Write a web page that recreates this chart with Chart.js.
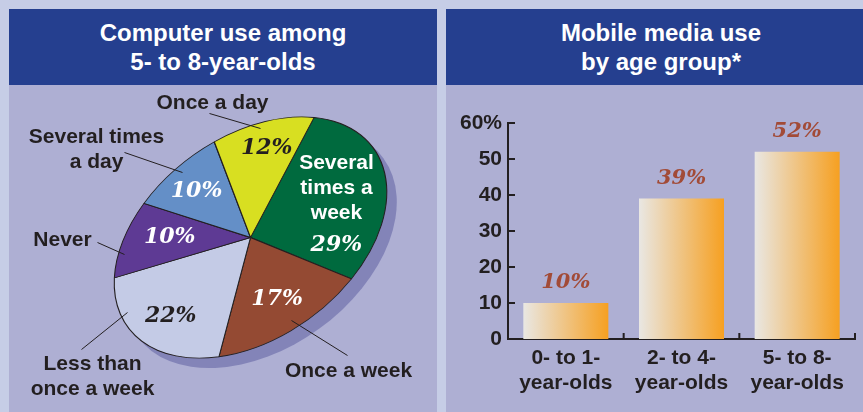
<!DOCTYPE html>
<html>
<head>
<meta charset="utf-8">
<script src="https://cdn.jsdelivr.net/npm/chart.js@4.4.0/dist/chart.umd.min.js"></script>
<style>
html, body { margin: 0; padding: 0; }
body {
    width: 863px; height: 412px; overflow: hidden; position: relative;
    background: #c6cde6;
    font-family: 'Liberation Sans', Arial, sans-serif;
}
.panel { position: absolute; top: 9px; bottom: 0; background: #aeafd3; }
#leftPanel { left: 9px; width: 428px; }
#rightPanel { left: 446px; width: 430px; }
.head {
    height: 76px; background: #253f8f; color: #fff;
    font-weight: bold; font-size: 24px; line-height: 29px; text-align: center;
    display: flex; flex-direction: column; justify-content: center;
}
.chartBox { position: absolute; top: 76px; left: 0; }
</style>
</head>
<body>
<div class="panel" id="leftPanel">
    <div class="head"><div>Computer use among</div><div>5- to 8-year-olds</div></div>
    <div class="chartBox"><canvas id="pieChart" width="428" height="327"></canvas></div>
</div>
<div class="panel" id="rightPanel">
    <div class="head"><div>Mobile media use</div><div>by age group*</div></div>
    <div class="chartBox"><canvas id="barChart" width="417" height="327"></canvas></div>
</div>
<script>
// Datos del gráfico circular (orden horario desde arriba)
const pieCategories = ['Several times a week', 'Once a week', 'Less than once a week', 'Never', 'Several times a day', 'Once a day'];
const pieValues = [29, 17, 22, 10, 10, 12];

// Datos del gráfico de barras
const barCategories = [['0- to 1-', 'year-olds'], ['2- to 4-', 'year-olds'], ['5- to 8-', 'year-olds']];
const barValues = [10, 39, 52];
const yMax = 60;
const yStep = 10;

const pieColors = ['#006a3e', '#944a33', '#c4cbe6', '#5e3a94', '#648fc7', '#d8df21'];
const pctColors = ['#fff', '#fff', '#231f20', '#fff', '#fff', '#231f20'];
// posición de los porcentajes: desplazamiento angular (grados) y fracción del radio
const pctShift = [37.5, 0, -1.6, 1.6, -1, 2.8];
const pctRadius = [0.71, 0.66, 0.75, 0.64, 0.70, 0.76];

const ink = '#231f20';
const sans = "'Liberation Sans', Arial, sans-serif";
const serif = "'DejaVu Serif', 'Liberation Serif', serif";
Chart.defaults.font.family = sans;

// Etiquetas externas con sus líneas guía (relativas al centro)
const pieCallouts = [
    { lines: ['Several', 'times a', 'week'], x: 86, y: -74, color: '#fff' },
    { lines: ['Once a week'], x: 98, y: 134, leader: [41, 83, 97, 118] },
    { lines: ['Less than', 'once a week'], x: -158, y: 127, leader: [-169, 112, -123, 75] },
    { lines: ['Never'], x: -188, y: 3, leader: [-153, 5, -126, 17] },
    { lines: ['Several times', 'a day'], x: -154, y: -100, leader: [-126, -85, -68, -65] },
    { lines: ['Once a day'], x: -38, y: -134, leader: [-41, -124, 10, -109] }
];

const tilt = -36 * Math.PI / 180;
const squash = 0.66;

function ellipsePoint(cx, cy, r, ang) {
    const px = r * Math.cos(ang);
    const py = squash * r * Math.sin(ang);
    return [cx + px * Math.cos(tilt) - py * Math.sin(tilt), cy + px * Math.sin(tilt) + py * Math.cos(tilt)];
}

const tiltPlugin = {
    id: 'tilt',
    beforeDatasetsDraw(chart) {
        const ctx = chart.ctx;
        const { x, y, outerRadius } = chart.getDatasetMeta(0).data[0];
        // sombra
        ctx.save();
        ctx.translate(x + 10, y + 10);
        ctx.rotate(tilt);
        ctx.scale(1, squash);
        ctx.beginPath();
        ctx.arc(0, 0, outerRadius, 0, Math.PI * 2);
        ctx.fillStyle = '#8384b8';
        ctx.fill();
        ctx.restore();
        // inclinar el pastel
        ctx.save();
        ctx.translate(x, y);
        ctx.rotate(tilt);
        ctx.scale(1, squash);
        ctx.translate(-x, -y);
    },
    afterDatasetsDraw(chart) {
        chart.ctx.restore();
    }
};

const pieLabelPlugin = {
    id: 'pieLabels',
    afterDraw(chart) {
        const ctx = chart.ctx;
        const meta = chart.getDatasetMeta(0);
        const { x: cx, y: cy, outerRadius: R } = meta.data[0];
        ctx.save();
        ctx.textAlign = 'center';
        ctx.textBaseline = 'middle';
        ctx.font = 'bold 21px ' + sans;
        pieCallouts.forEach(c => {
            ctx.fillStyle = c.color || ink;
            c.lines.forEach((t, i) => ctx.fillText(t, cx + c.x, cy + c.y + i * 25));
            if (c.leader) {
                ctx.strokeStyle = ink;
                ctx.lineWidth = 1;
                ctx.beginPath();
                ctx.moveTo(cx + c.leader[0], cy + c.leader[1]);
                ctx.lineTo(cx + c.leader[2], cy + c.leader[3]);
                ctx.stroke();
            }
        });
        ctx.font = 'italic bold 22px ' + serif;
        meta.data.forEach((arc, i) => {
            const mid = (arc.startAngle + arc.endAngle) / 2 + pctShift[i] * Math.PI / 180;
            const [px, py] = ellipsePoint(cx, cy, R * pctRadius[i], mid);
            ctx.fillStyle = pctColors[i];
            ctx.fillText(pieValues[i] + '%', px, py);
        });
        ctx.restore();
    }
};

new Chart(document.getElementById('pieChart'), {
    type: 'pie',
    data: {
        labels: pieCategories,
        datasets: [{
            data: pieValues,
            backgroundColor: pieColors,
            borderColor: ink,
            borderWidth: 1.2,
            clip: false
        }]
    },
    options: {
        responsive: false,
        animation: false,
        rotation: 53.4,
        layout: { padding: { left: 89, right: 34, top: 0, bottom: 22 } },
        plugins: { legend: { display: false }, tooltip: { enabled: false } }
    },
    plugins: [tiltPlugin, pieLabelPlugin]
});

// Gradiente horizontal para cada barra
const barFraction = 0.735;
function barGradient(c) {
    const chart = c.chart;
    const xs = chart.scales.x;
    if (!xs || !chart.chartArea) return '#f0b060';
    const bw = xs.width / barCategories.length * barFraction;
    const mid = xs.getPixelForValue(c.dataIndex);
    const g = chart.ctx.createLinearGradient(mid - bw / 2, 0, mid + bw / 2, 0);
    g.addColorStop(0, '#e9e7e3');
    g.addColorStop(1, '#f6a021');
    return g;
}

const barValuePlugin = {
    id: 'barValues',
    afterDatasetsDraw(chart) {
        const ctx = chart.ctx;
        ctx.save();
        ctx.textAlign = 'center';
        ctx.textBaseline = 'middle';
        ctx.font = 'italic bold 21px ' + serif;
        ctx.fillStyle = '#a24b37';
        chart.getDatasetMeta(0).data.forEach((el, i) => {
            ctx.fillText(barValues[i] + '%', el.x, el.y - 20);
        });
        ctx.restore();
    }
};

// Marcas de los ejes hacia adentro
const axisMarksPlugin = {
    id: 'axisMarks',
    afterDraw(chart) {
        const ctx = chart.ctx;
        const { left, bottom } = chart.chartArea;
        const xs = chart.scales.x, ys = chart.scales.y;
        ctx.save();
        ctx.strokeStyle = ink;
        ctx.lineWidth = 2;
        ctx.beginPath();
        ys.ticks.forEach(t => {
            const py = ys.getPixelForValue(t.value);
            ctx.moveTo(left, py);
            ctx.lineTo(left + 7, py);
        });
        const half = xs.width / barCategories.length / 2;
        barCategories.forEach((_, i) => {
            const px = xs.getPixelForValue(i) + half;
            ctx.moveTo(px, bottom);
            ctx.lineTo(px, bottom - 6);
        });
        ctx.stroke();
        ctx.restore();
    }
};

new Chart(document.getElementById('barChart'), {
    type: 'bar',
    data: {
        labels: barCategories,
        datasets: [{
            data: barValues,
            backgroundColor: barGradient,
            borderWidth: 0,
            categoryPercentage: 1,
            barPercentage: barFraction
        }]
    },
    options: {
        responsive: false,
        animation: false,
        layout: { padding: { top: 38, right: 8, left: 0, bottom: 0 } },
        plugins: { legend: { display: false }, tooltip: { enabled: false } },
        scales: {
            y: {
                min: 0,
                max: yMax,
                z: 1,
                ticks: {
                    stepSize: yStep,
                    padding: 6,
                    color: ink,
                    font: { size: 21, weight: 'bold' },
                    callback: v => v === yMax ? v + '%' : v
                },
                grid: { display: false, drawTicks: false },
                border: { display: true, color: ink, width: 2 },
                afterFit: s => { s.width = 62; }
            },
            x: {
                z: 1,
                ticks: {
                    padding: 7,
                    color: ink,
                    maxRotation: 0,
                    autoSkip: false,
                    font: { size: 21, weight: 'bold', lineHeight: 1.17 }
                },
                grid: { display: false, drawTicks: false },
                border: { display: true, color: ink, width: 2 },
                afterFit: s => { s.height = 73; }
            }
        }
    },
    plugins: [barValuePlugin, axisMarksPlugin]
});
</script>
</body>
</html>
